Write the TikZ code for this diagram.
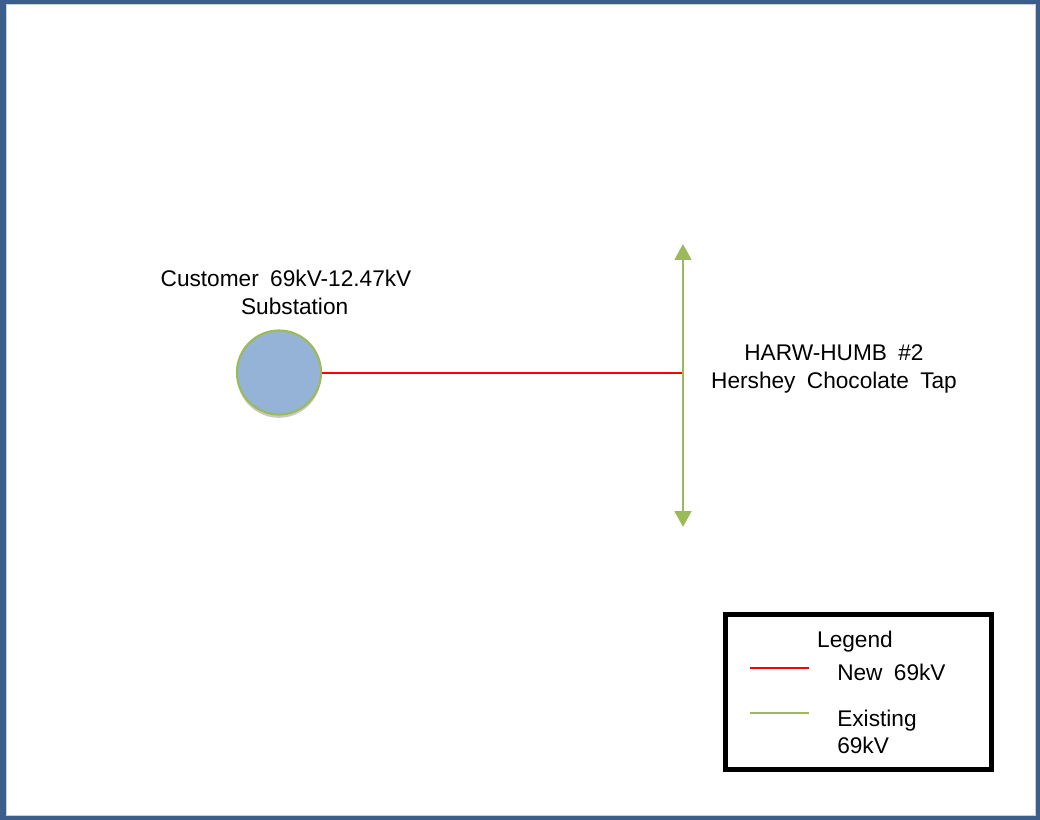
\documentclass[tikz,border=0pt]{standalone}
\usepackage{fontspec}
\setmainfont{Liberation Sans}
\usetikzlibrary{shadows,arrows.meta}
\definecolor{frameblue}{HTML}{3B5E8C}
\definecolor{subfill}{HTML}{95B3D7}
\definecolor{exgreen}{HTML}{9BBB59}
\definecolor{newred}{HTML}{FF0000}
\tikzset{
  lbl/.style={font=\fontsize{17}{21}\selectfont, inner sep=0pt,
    execute at begin node={\spaceskip=0.5em\relax}},
  newline/.style={draw=newred, line width=1.5pt},
  exline/.style={draw=exgreen, line width=2.2pt},
  legline/.style={line width=1.5pt},
}
\begin{document}
\begin{tikzpicture}[x=0.75pt,y=-0.75pt]
\useasboundingbox (0,0) rectangle (1040,820);
% frame
\fill[frameblue] (0,0) rectangle (1040,820);
\fill[white] (6,5) rectangle (1035,815);
\draw[gray!40, line width=0.75pt] (6,5) rectangle (1035,815);
% substation
\node[circle, minimum size=63pt, inner sep=0pt, fill=subfill, draw=exgreen, line width=1.6pt,
      drop shadow={shadow xshift=0pt, shadow yshift=-2.5pt, opacity=0.35, fill=black!60}] (sub) at (279,372.5) {};
\node[lbl, align=center] (sublbl) at (286,292) {Customer 69kV-12.47kV\\\hspace{13pt}Substation};
% tap
\coordinate (tap) at (683,372.5);
\coordinate (ttop) at (683,244);
\coordinate (tbot) at (683,527);
\draw[newline] (sub.east) -- (tap);
\draw[exline, {Triangle[width=12.5pt,length=12pt]}-{Triangle[width=12.5pt,length=12pt]}] (ttop) -- (tbot);
\node[lbl, align=center] (taplbl) at (834,369) {HARW-HUMB \#2\\Hershey Chocolate Tap};
% legend
\node[draw=black, line width=3.8pt, minimum width=199.5pt, minimum height=116.25pt, inner sep=0pt] (legend) at (858.5,692) {};
\node[lbl, anchor=base] (legtitle) at (855,647) {Legend};
\coordinate (r1) at (750,668);
\coordinate (r2) at (809,668);
\coordinate (g1) at (750,713);
\coordinate (g2) at (809,713);
\draw[legline, draw=newred] (r1) -- (r2);
\draw[legline, draw=exgreen] (g1) -- (g2);
\node[lbl, anchor=base west] (legnew) at (837,680) {New 69kV};
\node[lbl, align=left, anchor=west, font=\fontsize{17}{20.3}\selectfont] (legex) at (837,732) {Existing\\69kV};
\end{tikzpicture}
\end{document}
